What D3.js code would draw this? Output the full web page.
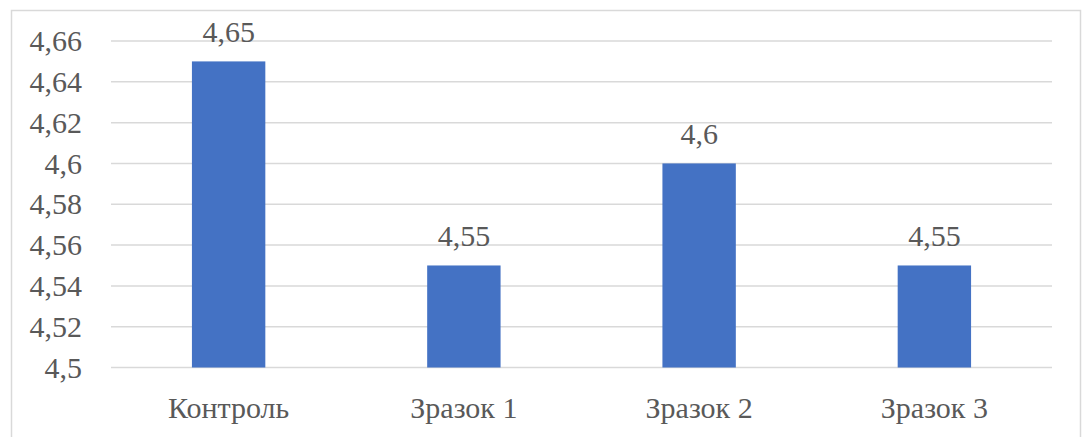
<!DOCTYPE html>
<html>
<head>
<meta charset="utf-8">
<script src="https://cdn.jsdelivr.net/npm/d3@7"></script>
<style>
  svg text { font-family: "Liberation Serif", serif !important; }
</style>
</head>
<body style="margin:0;background:#fff">
<script>
// Chart data
const categories = ["Контроль", "Зразок 1", "Зразок 2", "Зразок 3"];
const values = [4.65, 4.55, 4.6, 4.55];
const yTicks = [4.5, 4.52, 4.54, 4.56, 4.58, 4.6, 4.62, 4.64, 4.66];

const W = 1082, H = 437;
const plot = { left: 111, right: 1052, top: 41, bottom: 367.5 };
const FONT = "'Liberation Serif', serif";
const TEXT = "#595959";
const SIZE = "30px";

// shared label styling
function labelStyle(sel) {
  sel.style("font-family", FONT, "important")
    .style("font-size", SIZE)
    .style("fill", TEXT);
}

const svg = d3.select("body").append("svg")
  .attr("width", W).attr("height", H)
  .style("display", "block");

// outer frame
svg.append("rect")
  .attr("x", 11.5).attr("y", 10.5)
  .attr("width", 1069).attr("height", 440)
  .attr("fill", "none").attr("stroke", "#d9d9d9").attr("stroke-width", 1.5);

const x = d3.scaleBand().domain(categories)
  .range([plot.left, plot.right]).paddingInner(0.688).paddingOuter(0.344);
const y = d3.scaleLinear().domain([4.5, 4.66]).range([plot.bottom, plot.top]);

const fmt = v => String(+v.toFixed(2)).replace(".", ",");

// horizontal gridlines
svg.append("g").selectAll("line").data(yTicks).join("line")
  .attr("x1", plot.left).attr("x2", plot.right)
  .attr("y1", d => y(d)).attr("y2", d => y(d))
  .attr("stroke", "#d9d9d9").attr("stroke-width", 1.5);

// y axis labels
const yAxis = d3.axisLeft(y).tickValues(yTicks).tickFormat(fmt).tickSize(0).tickPadding(0);
const gy = svg.append("g").attr("transform", `translate(${plot.left - 29},0)`).call(yAxis);
gy.attr("font-family", null).attr("font-size", null);
gy.select(".domain").remove();
gy.selectAll("text").call(labelStyle).attr("dy", "0.32em");

// bars
svg.append("g").selectAll("rect").data(values).join("rect")
  .attr("x", (d, i) => x(categories[i]))
  .attr("width", x.bandwidth())
  .attr("y", d => y(d))
  .attr("height", d => y(4.5) - y(d))
  .attr("fill", "#4472c4");

// value labels
svg.append("g").selectAll("text").data(values).join("text")
  .attr("x", (d, i) => x(categories[i]) + x.bandwidth() / 2)
  .attr("y", d => y(d) - 19)
  .attr("text-anchor", "middle")
  .call(labelStyle)
  .text(fmt);

// category labels
const xAxis = d3.axisBottom(x).tickSize(0).tickPadding(0);
const gx = svg.append("g").attr("transform", `translate(0,${plot.bottom})`).call(xAxis);
gx.attr("font-family", null).attr("font-size", null);
gx.select(".domain").remove();
gx.selectAll("text").call(labelStyle).attr("dy", 0).attr("y", 50.5);
</script>
</body>
</html>
